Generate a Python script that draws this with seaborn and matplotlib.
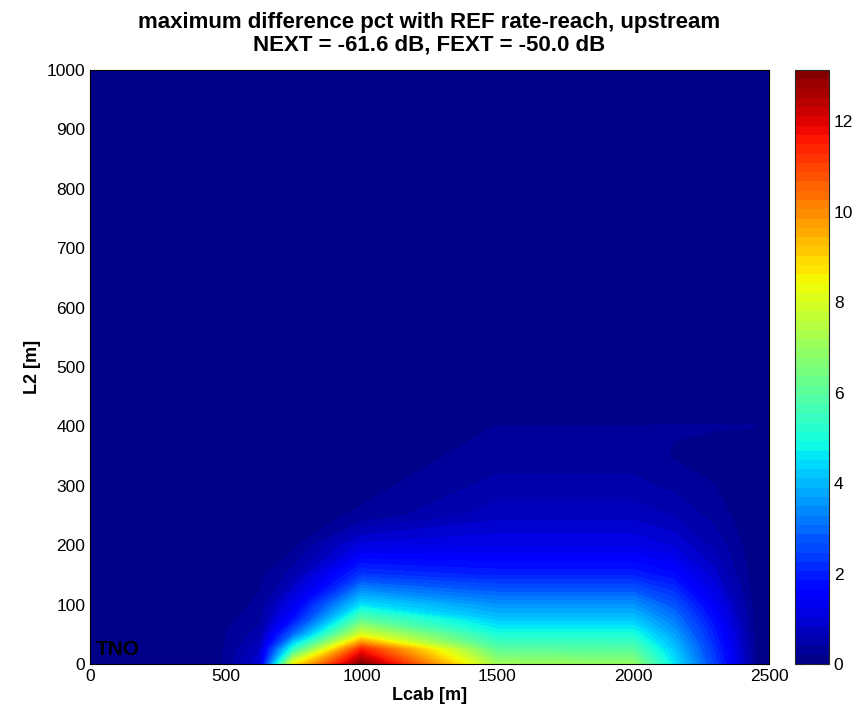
"""
Max difference pct vs REF rate-reach (upstream), Lcab x L2 map
MATLAB-like jet map with 64 colour bands
"""

import numpy as np
import matplotlib
matplotlib.use('Agg')
import matplotlib.pyplot as plt
import seaborn as sns

sns.set_style('white')
plt.rcParams['font.family'] = ['Liberation Sans', 'DejaVu Sans']
plt.rcParams.update({'text.color': 'black', 'axes.labelcolor': 'black',
                     'xtick.color': 'black', 'ytick.color': 'black'})

# ── grid ──────────────────────────────────────────────────
lcab = [0, 450, 500, 625, 750, 1000, 1500, 2000, 2150, 2300, 2400, 2450, 2500]
l2   = [0, 25, 50, 75, 100, 150, 200, 250, 300, 350, 400, 450, 1000]

# one list per Lcab column, values along l2
pct_0    = [0.00, 0.00, 0.00, 0.00, 0.00, 0.00, 0.00, 0.00, 0.00, 0.00, 0.00, 0.00, 0.00]
pct_450  = [0.05, 0.05, 0.04, 0.03, 0.02, 0.02, 0.01, 0.01, 0.01, 0.01, 0.01, 0.00, 0.00]
pct_500  = [0.25, 0.23, 0.20, 0.15, 0.10, 0.05, 0.03, 0.02, 0.02, 0.02, 0.02, 0.01, 0.00]
pct_625  = [1.00, 0.80, 0.50, 0.35, 0.25, 0.15, 0.08, 0.04, 0.03, 0.02, 0.02, 0.01, 0.00]
pct_750  = [8.50, 5.30, 3.00, 1.80, 1.30, 0.50, 0.15, 0.08, 0.04, 0.03, 0.02, 0.01, 0.00]
pct_1000 = [13.10, 11.50, 8.00, 6.00, 4.50, 2.30, 1.10, 0.25, 0.12, 0.06, 0.04, 0.02, 0.00]
pct_1500 = [7.10, 6.00, 5.00, 4.20, 3.50, 2.00, 1.20, 0.75, 0.48, 0.30, 0.21, 0.02, 0.00]
pct_2000 = [6.90, 5.90, 5.00, 4.20, 3.50, 2.00, 1.20, 0.75, 0.48, 0.30, 0.21, 0.02, 0.00]
pct_2150 = [4.60, 4.20, 3.70, 3.20, 2.70, 1.70, 1.00, 0.60, 0.35, 0.19, 0.22, 0.02, 0.00]
pct_2300 = [2.40, 2.20, 1.95, 1.70, 1.40, 0.90, 0.55, 0.33, 0.21, 0.12, 0.22, 0.02, 0.00]
pct_2400 = [0.95, 0.85, 0.75, 0.60, 0.50, 0.30, 0.21, 0.12, 0.08, 0.06, 0.22, 0.02, 0.00]
pct_2450 = [0.20, 0.18, 0.15, 0.12, 0.10, 0.08, 0.06, 0.05, 0.04, 0.04, 0.21, 0.02, 0.00]
pct_2500 = [0.03, 0.03, 0.03, 0.03, 0.03, 0.03, 0.03, 0.03, 0.03, 0.03, 0.03, 0.01, 0.00]

cbar_max = 13.13
cbar_ticks = [0, 2, 4, 6, 8, 10, 12]

Z = np.column_stack([pct_0, pct_450, pct_500, pct_625, pct_750, pct_1000, pct_1500,
                     pct_2000, pct_2150, pct_2300, pct_2400, pct_2450, pct_2500])

# ── figure ────────────────────────────────────────────────
fig = plt.figure(figsize=(8.6, 7.2), dpi=100)
ax  = fig.add_axes([90/860, 56/720, 679/860, 594/720])
cax = fig.add_axes([795/860, 56/720, 34/860, 594/720])

levels = np.linspace(0, cbar_max, 65)
cf = ax.contourf(lcab, l2, Z, levels=levels, cmap='jet', vmin=0, vmax=cbar_max)

ax.set_xlim(0, 2500); ax.set_ylim(0, 1000)
ax.set_xticks(range(0, 2501, 500)); ax.set_yticks(range(0, 1001, 100))
ax.set_axisbelow(True)
ax.tick_params(direction='in', labelsize=12.5, top=True, right=True, length=5)
for s in ax.spines.values():
    s.set_color('black'); s.set_linewidth(0.8)

ax.set_xlabel('Lcab [m]', fontsize=13, fontweight='bold', labelpad=2)
ax.set_ylabel('L2 [m]', fontsize=13, fontweight='bold', labelpad=4)
ax.set_title('maximum difference pct with REF rate-reach, upstream\n'
             'NEXT = -61.6 dB, FEXT = -50.0 dB',
             fontsize=16, fontweight='bold', pad=14, linespacing=1.12)

# TNO logo bottom-left
ax.text(0.008, 0.008, 'TNO', transform=ax.transAxes, fontsize=15,
        fontweight='heavy', color='black', ha='left', va='bottom')

cb = fig.colorbar(cf, cax=cax, ticks=cbar_ticks)
cb.ax.tick_params(direction='in', labelsize=12.5, left=True, right=True, length=5)
cb.outline.set_linewidth(0.8)

plt.savefig('out.png', dpi=100, facecolor='white')
plt.close()
